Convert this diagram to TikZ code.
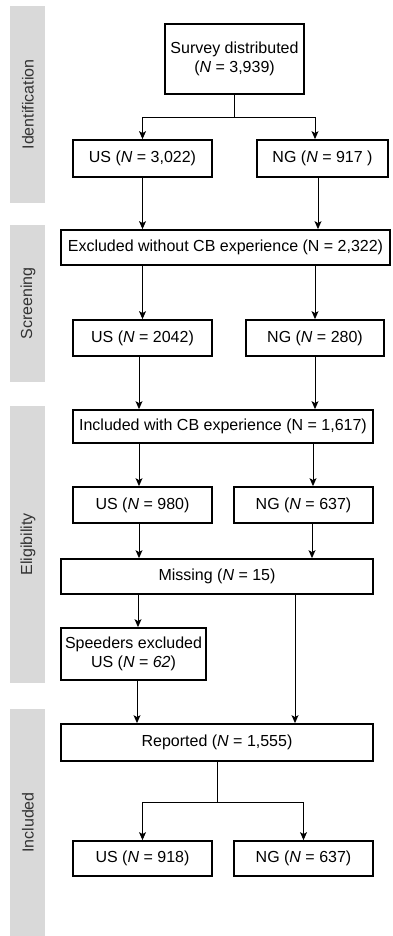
\documentclass[tikz,border=0pt]{standalone}
\usepackage{fontspec}
\setmainfont{Liberation Sans}
\usetikzlibrary{arrows.meta}
\begin{document}
\begin{tikzpicture}[x=1pt,y=-1pt,
  font=\fontsize{16}{19}\selectfont,
  box/.style={draw=black,line width=1.8pt,fill=white,inner sep=0pt,align=center},
  bar/.style={fill=black!15,draw=none},
  barlabel/.style={rotate=90,text=black!80},
  arr/.style={line width=0.9pt,-{Stealth[length=8pt,width=7pt,inset=2pt]}},
  ln/.style={line width=0.9pt}]
\useasboundingbox (0,0) rectangle (393,936);
% phase bars
\fill[bar] (10,6) rectangle (45,203);
\fill[bar] (10,225) rectangle (45,382);
\fill[bar] (10,406) rectangle (45,683);
\fill[bar] (10,709) rectangle (45,936);
\node[barlabel] (lid) at (28,104.5) {Identification};
\node[barlabel] (lsc) at (28,303.5) {Screening};
\node[barlabel] (lel) at (28,544.5) {Eligibility};
\node[barlabel] (lin) at (28,822.5) {Included};
% boxes
\node[box,minimum width=139pt,minimum height=70pt] (top) at (234.5,59) {Survey distributed\\(\textit{N} = 3,939)};
\node[box,minimum width=139pt,minimum height=37pt] (us1) at (142.5,158.5) {US (\textit{N} = 3,022)};
\node[box,minimum width=131pt,minimum height=37pt] (ng1) at (322.5,158.5) {NG (\textit{N} = 917 )};
\node[box,minimum width=329pt,minimum height=35pt] (excl) at (225.5,247.5) {Excluded without CB experience (N = 2,322)};
\node[box,minimum width=139pt,minimum height=36pt] (us2) at (142.5,338) {US (\textit{N} = 2042)};
\node[box,minimum width=138pt,minimum height=36pt] (ng2) at (315,338) {NG (\textit{N} = 280)};
\node[box,minimum width=300pt,minimum height=33pt] (incl) at (223,426.5) {Included with CB experience (N = 1,617)};
\node[box,minimum width=139pt,minimum height=36pt] (us3) at (142.5,505) {US (\textit{N} = 980)};
\node[box,minimum width=139pt,minimum height=36pt] (ng3) at (303.5,505) {NG (\textit{N} = 637)};
\node[box,minimum width=312pt,minimum height=35pt] (miss) at (217,576.5) {Missing (\textit{N} = 15)};
\node[box,minimum width=145pt,minimum height=52pt] (speed) at (133.5,654) {Speeders excluded\\US (\textit{N} = \textit{62})};
\node[box,minimum width=312pt,minimum height=37pt] (rep) at (217,742.5) {Reported (\textit{N} = 1,555)};
\node[box,minimum width=139pt,minimum height=35pt] (us4) at (142.5,858.5) {US (\textit{N} = 918)};
\node[box,minimum width=139pt,minimum height=35pt] (ng4) at (303.5,858.5) {NG (\textit{N} = 637)};
% connectors
\draw[ln] (top.south) -- ++(0,23) coordinate (s1);
\draw[arr] (s1) -| (us1.north);
\draw[arr] (s1) -| ([xshift=-7.5pt]ng1.north);
\draw[arr] (us1.south) -- (us1.south |- excl.north);
\draw[arr] ([xshift=-4.5pt]ng1.south) -- ([xshift=-4.5pt]ng1.south |- excl.north);
\draw[arr] (us2.north |- excl.south) -- (us2.north);
\draw[arr] (ng2.north |- excl.south) -- (ng2.north);
\draw[arr] ([xshift=-3.5pt]us2.south) -- ([xshift=-3.5pt]us2.south |- incl.north);
\draw[arr] (ng2.south) -- (ng2.south |- incl.north);
\draw[arr] ([xshift=-3.5pt]us3.north |- incl.south) -- ([xshift=-3.5pt]us3.north);
\draw[arr] ([xshift=9.5pt]ng3.north |- incl.south) -- ([xshift=9.5pt]ng3.north);
\draw[arr] ([xshift=-3.5pt]us3.south) -- ([xshift=-3.5pt]us3.south |- miss.north);
\draw[arr] ([xshift=8.5pt]ng3.south) -- ([xshift=8.5pt]ng3.south |- miss.north);
\draw[arr] ([xshift=4.5pt]speed.north |- miss.south) -- ([xshift=4.5pt]speed.north);
\draw[arr] ([xshift=78pt]miss.south) -- ([xshift=78pt]miss.south |- rep.north);
\draw[arr] ([xshift=3.5pt]speed.south) -- ([xshift=3.5pt]speed.south |- rep.north);
\draw[ln] (rep.south) -- ++(0,41) coordinate (s2);
\draw[arr] (s2) -| (us4.north);
\draw[arr] (s2) -| (ng4.north);
\end{tikzpicture}
\end{document}
